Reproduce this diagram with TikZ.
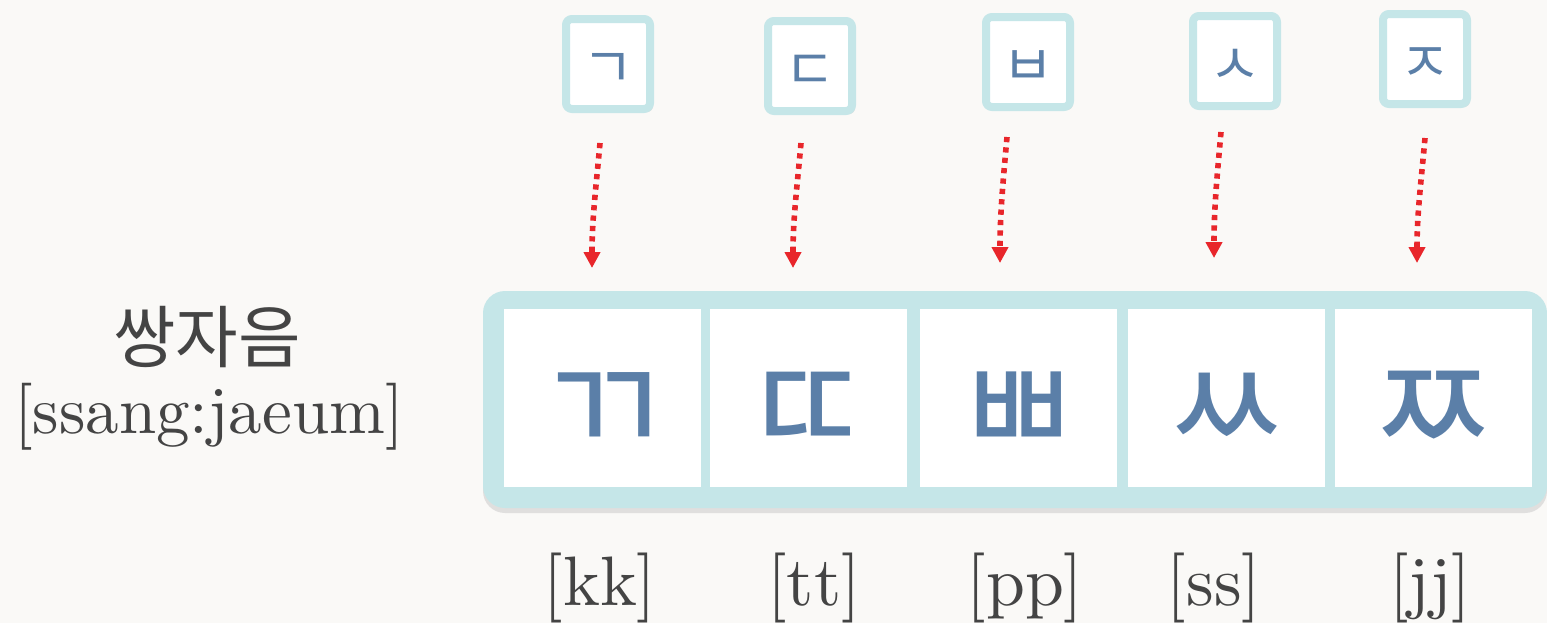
\documentclass[tikz,border=0pt]{standalone}
\usepackage{fontspec}
\newfontfamily\kr{Noto Sans CJK KR}
\newfontfamily\lmten{lmroman10-regular.otf}
\usepackage{tikz}
\usetikzlibrary{arrows.meta,shadows}
\usepackage{xcolor}
\definecolor{frameblue}{HTML}{C5E6E8}
\definecolor{jamoblue}{HTML}{5B7FA8}
\definecolor{textgray}{HTML}{444444}
\definecolor{dotred}{HTML}{E8262B}
\definecolor{paper}{HTML}{FAF9F7}

\begin{document}
\begin{tikzpicture}[x=0.5pt,y=-0.5pt,
    small/.style={draw=frameblue, line width=4pt, fill=white, rounded corners=3pt,
        minimum width=42pt, minimum height=45pt, inner sep=0pt,
        drop shadow={shadow xshift=1.5pt, shadow yshift=-1.5pt, fill=black!25}},
    jamo/.style={inner sep=0pt, text=jamoblue, font=\kr\fontsize{28}{28}\selectfont},
    cell/.style={fill=white, minimum width=98.5pt, minimum height=89pt, inner sep=0pt},
    dbl/.style={inner sep=0pt, text=jamoblue, font=\kr\fontsize{68}{68}\selectfont},
    lab/.style={anchor=base, text=textgray, font=\lmten\fontsize{35}{35}\selectfont},
    dots/.style={dotred, line width=2.8pt, dash pattern=on 2.6pt off 2.6pt,
        -{Triangle[width=8pt,length=8pt]}}]

\useasboundingbox[fill=paper] (0,0) rectangle (1547,623);

%% left label
\node[text=textgray, font=\kr\fontsize{34}{34}\selectfont] (name) at (207,337) {쌍자음};
\node[lab, font=\lmten\fontsize{33.5}{33.5}\selectfont] (read) at (209,433) {[ssang:jaeum]};

%% big frame
\node[fill=frameblue, rounded corners=11pt, minimum width=532pt, minimum height=108.5pt,
    drop shadow={shadow xshift=0pt, shadow yshift=-2.5pt, fill=black!22}] (frame) at (1015,399.5) {};

\node[cell] (c1) at (602,398) {};
\node[cell] (c2) at (808.5,398) {};
\node[cell] (c3) at (1018,398) {};
\node[cell] (c4) at (1226,398) {};
\node[cell] (c5) at (1433.5,398) {};

\node[dbl] (d1) at ([yshift=-8pt]c1) {ㄲ};
\node[dbl] (d2) at ([yshift=-8pt]c2) {ㄸ};
\node[dbl] (d3) at ([yshift=-8pt]c3) {ㅃ};
\node[dbl] (d4) at ([yshift=-8pt]c4) {ㅆ};
\node[dbl] (d5) at ([yshift=-8pt]c5) {ㅉ};

%% single consonants
\node[small] (j1) at (608,64) {};
\node[small] (j2) at (810,66) {};
\node[small] (j3) at (1028,62) {};
\node[small] (j4) at (1235,61) {};
\node[small] (j5) at (1425,59) {};

\node[jamo] (t1) at ([yshift=-3pt]j1) {ㄱ};
\node[jamo] (t2) at ([yshift=-3pt]j2) {ㄷ};
\node[jamo] (t3) at ([yshift=-3pt]j3) {ㅂ};
\node[jamo] (t4) at ([yshift=-3pt]j4) {ㅅ};
\node[jamo] (t5) at ([yshift=-3pt]j5) {ㅈ};

%% dotted arrows
\coordinate (s1) at (600,143); \coordinate (e1) at (592,268);
\coordinate (s2) at (801,143); \coordinate (e2) at (793,268);
\coordinate (s3) at (1007,137); \coordinate (e3) at (1000,263);
\coordinate (s4) at (1221,132); \coordinate (e4) at (1214,258);
\coordinate (s5) at (1425,138); \coordinate (e5) at (1417,263);

\draw[dots] (s1) .. controls +(-4,45) and +(0,-50) .. (e1);
\draw[dots] (s2) .. controls +(-4,45) and +(0,-50) .. (e2);
\draw[dots] (s3) .. controls +(-4,45) and +(0,-50) .. (e3);
\draw[dots] (s4) .. controls +(-4,45) and +(0,-50) .. (e4);
\draw[dots] (s5) .. controls +(-4,45) and +(0,-50) .. (e5);

%% readings
\node[lab] (l1) at (600,605) {[kk]};
\node[lab] (l2) at (814,605) {[tt]};
\node[lab] (l3) at (1025,605) {[pp]};
\node[lab] (l4) at (1214,605) {[ss]};
\node[lab] (l5) at (1430,605) {[jj]};

\end{tikzpicture}
\end{document}
